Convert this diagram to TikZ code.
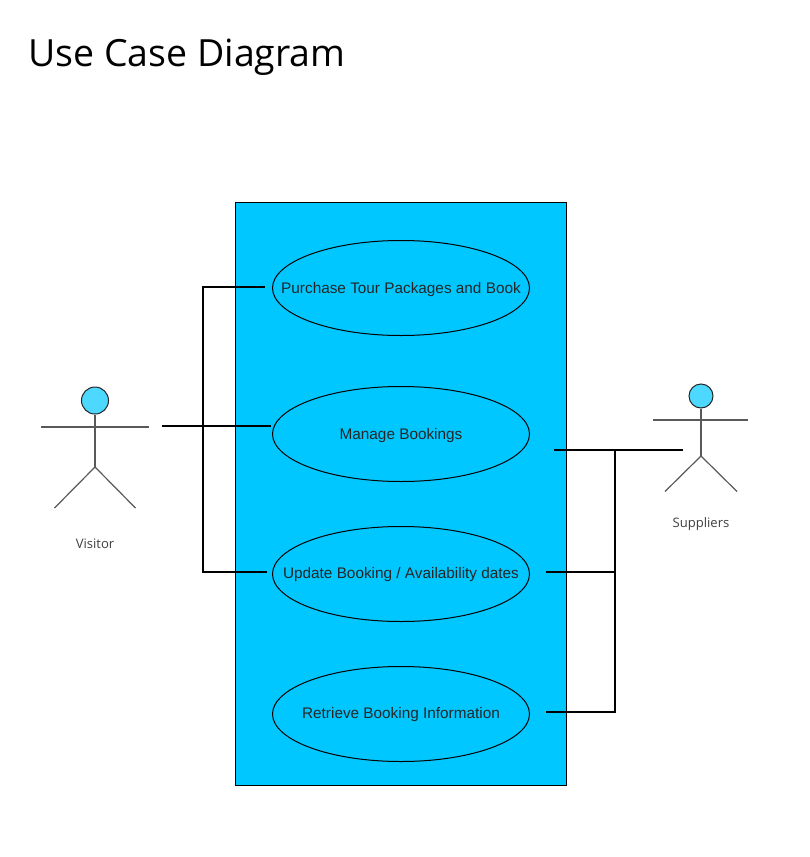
\documentclass[tikz,border=0pt]{standalone}
\usepackage{fontspec}
\usetikzlibrary{shapes.geometric}
\setmainfont{Liberation Sans}
\newfontfamily\opensans{Open Sans}
\definecolor{sysblue}{HTML}{00C7FF}
\definecolor{headblue}{HTML}{4DD8FF}
\begin{document}
\begin{tikzpicture}[x=0.75pt,y=-0.75pt,
  usecase/.style={draw=black,fill=sysblue,ellipse,minimum width=192.75pt,minimum height=71.25pt,inner sep=0pt,line width=0.75pt},
  caselabel/.style={font=\fontsize{11.5pt}{13pt}\selectfont,text=black!85,inner sep=0pt},
  link/.style={draw=black,line width=1.7pt},
  head/.style={draw=black!85,fill=headblue,circle,inner sep=0pt,line width=0.75pt},
  limb/.style={draw=black!65,line width=0.9pt},
  actorlabel/.style={font=\opensans\fontsize{9.8pt}{11pt}\selectfont,text=black!75}]
\useasboundingbox (0,0) rectangle (810,857);
\fill[white] (0,0) rectangle (810,857);
\node[anchor=west,inner sep=0pt,font=\opensans\fontsize{28.1pt}{34pt}\selectfont,text=black] (title) at (28,57) {Use Case Diagram};
\node[draw=black,fill=sysblue,line width=0.75pt,minimum width=248.25pt,minimum height=437.25pt,inner sep=0pt] (system) at (401,493.5) {};
\node[usecase] (uc1) at (401,288) {};
\node[usecase] (uc2) at (401,434) {};
\node[usecase] (uc3) at (401,574) {};
\node[usecase] (uc4) at (401,714) {};
\node[caselabel] (t1) at (401,290) {Purchase Tour Packages and Book};
\node[caselabel] (t2) at (401,436) {Manage Bookings};
\node[caselabel] (t3) at (401,575) {Update Booking / Availability dates};
\node[caselabel] (t4) at (401,715) {Retrieve Booking Information};
% Visitor
\node[head,minimum size=20.25pt] (vhead) at (95,400.5) {};
\coordinate (vhip) at (95,467);
\coordinate (vl) at (41,427); \coordinate (vr) at (149,427);
\coordinate (vfl) at (54.5,508); \coordinate (vfr) at (135.5,508);
\draw[limb] (vhead) -- (vhip);
\draw[limb] (vl) -- (vr);
\draw[limb] (vfl) -- (vhip) -- (vfr);
\node[actorlabel] (vlabel) at (95,543.5) {Visitor};
% Suppliers
\node[head,minimum size=18pt] (shead) at (701,396) {};
\coordinate (ship) at (701,456);
\coordinate (sl) at (653,420); \coordinate (sr) at (748,420);
\coordinate (sfl) at (665,491.5); \coordinate (sfr) at (737,491.5);
\draw[limb] (shead) -- (ship);
\draw[limb] (sl) -- (sr);
\draw[limb] (sfl) -- (ship) -- (sfr);
\node[actorlabel] (slabel) at (701,524.5) {Suppliers};
% connectors left
\coordinate (a1) at (265,287); \coordinate (a1b) at (203,287);
\coordinate (a3) at (267,572); \coordinate (a3b) at (203,572);
\coordinate (a2s) at (162,426); \coordinate (a2e) at (271,426);
\draw[link] (a1) -- (a1b) -- (a3b) -- (a3);
\draw[link] (a2s) -- (a2e);
% connectors right
\coordinate (b2s) at (554,450); \coordinate (b2e) at (683,450);
\coordinate (bt) at (615,450); \coordinate (b3) at (546,572); \coordinate (b3v) at (615,572);
\coordinate (b4) at (546,712); \coordinate (b4v) at (615,712);
\draw[link] (b2s) -- (b2e);
\draw[link] (bt) -- (b4v) -- (b4);
\draw[link] (b3) -- (b3v);
\end{tikzpicture}
\end{document}
